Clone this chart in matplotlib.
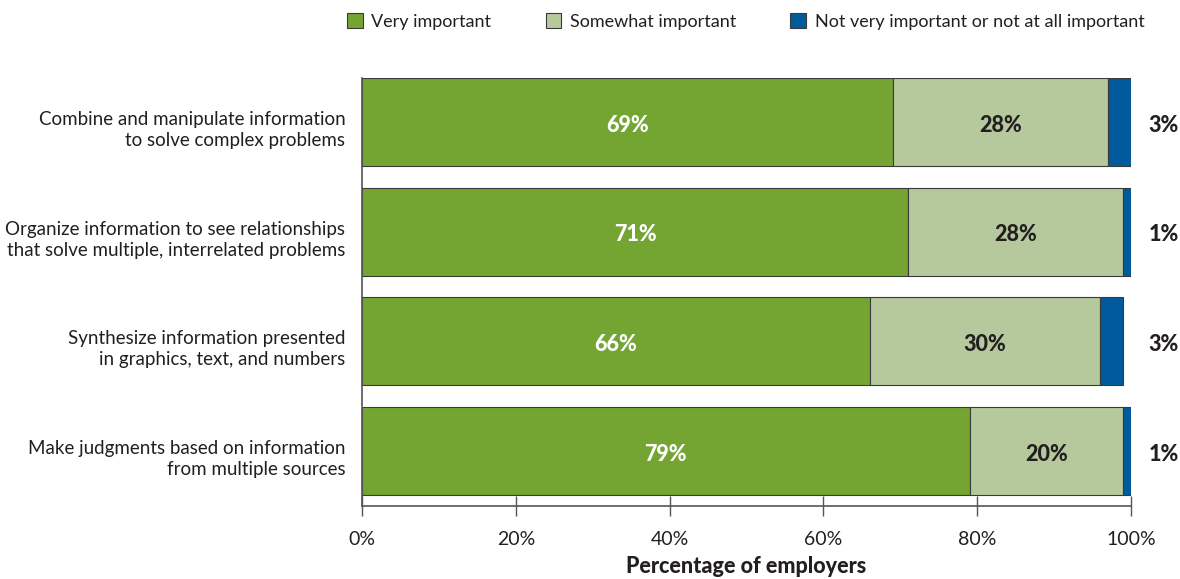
import numpy as np
import matplotlib
matplotlib.use('Agg')
import matplotlib.pyplot as plt
from matplotlib.patches import Patch

plt.rcParams['font.family'] = ['Lato', 'DejaVu Sans']

# ------------------------------------------------------------
#  data
# ------------------------------------------------------------
skills = [
    'Combine and manipulate information\nto solve complex problems',
    'Organize information to see relationships\nthat solve multiple, interrelated problems',
    'Synthesize information presented\nin graphics, text, and numbers',
    'Make judgments based on information\nfrom multiple sources',
]
very_important     = [69, 71, 66, 79]
somewhat_important = [28, 28, 30, 20]
not_important      = [3, 1, 3, 1]

series_names = ['Very important', 'Somewhat important',
                'Not very important or not at all important']
x_ticks = [0, 20, 40, 60, 80, 100]

GREEN = '#74A533'
LIGHT = '#B6C99C'
BLUE  = '#005A9C'
EDGE  = '#3a3a3a'
TEXT  = '#231f20'

fig = plt.figure(figsize=(11.8, 5.79), dpi=100)
ax = fig.add_axes([0.3068, 0.1261, 0.6517, 0.7392])

y = np.arange(len(skills))
v = np.array(very_important)
s = np.array(somewhat_important)
n = np.array(not_important)

ax.barh(y, v, height=0.8, color=GREEN, edgecolor=EDGE, linewidth=0.8)
ax.barh(y, s, left=v, height=0.8, color=LIGHT, edgecolor=EDGE, linewidth=0.8)
ax.barh(y, n, left=v + s, height=0.8, color=BLUE, edgecolor=EDGE, linewidth=0.8)

# value labels: white on dark green, dark on light green, outside for blue
for i in range(len(skills)):
    ax.text(v[i] / 2, y[i] + 0.03, f'{v[i]}%', ha='center', va='center',
            color='white', fontsize=15.5, fontweight='black')
    ax.text(v[i] + s[i] / 2, y[i] + 0.03, f'{s[i]}%', ha='center', va='center',
            color=TEXT, fontsize=15.5, fontweight='black')
    ax.text(104.2, y[i] + 0.03, f'{n[i]}%', ha='center', va='center',
            color=TEXT, fontsize=15.5, fontweight='black', clip_on=False)

ax.set_xlim(0, 100)
ax.set_ylim(3.5, -0.4)
ax.set_yticks(y + 0.04)
ax.set_yticklabels(skills, fontsize=13.5, color=TEXT, ha='right',
                   linespacing=1.3)
ax.tick_params(axis='y', length=0, pad=12)
ax.set_xticks(x_ticks)
ax.set_xticklabels([f'{t}%' for t in x_ticks], fontsize=14, color=TEXT)
ax.tick_params(axis='x', direction='inout', length=14, width=1,
               color='#555555', pad=11)
ax.set_xlabel('Percentage of employers', fontsize=15.5, fontweight='black',
              color=TEXT, labelpad=6)

for side in ['top', 'right']:
    ax.spines[side].set_visible(False)
for side in ['left', 'bottom']:
    ax.spines[side].set_color('#555555')
    ax.spines[side].set_linewidth(1.2)

handles = [Patch(facecolor=c, edgecolor=EDGE, linewidth=0.8)
           for c in [GREEN, LIGHT, BLUE]]
fig.legend(handles, series_names, loc='center', bbox_to_anchor=(0.632, 0.963),
           ncol=3, frameon=False, fontsize=13, handlelength=0.88,
           handleheight=0.88, handletextpad=0.47, columnspacing=3.0,
           labelcolor=TEXT)

plt.savefig('out.png', dpi=100)
plt.close()
